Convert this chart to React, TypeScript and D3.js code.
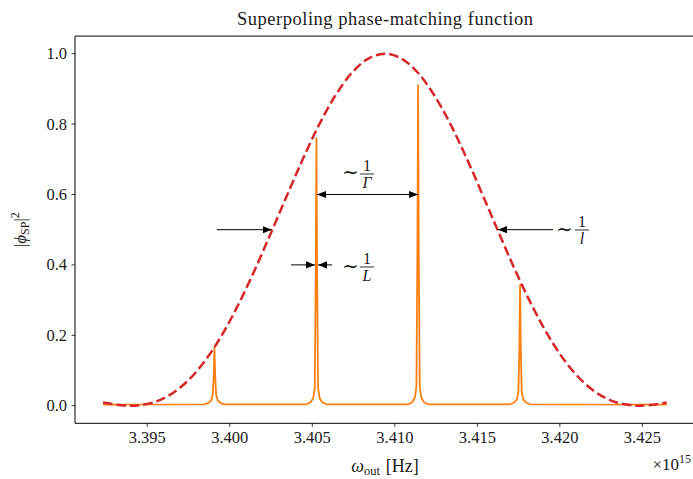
import React from "react";
import * as d3 from "d3";

// ---- data ----
const xTicks = [3.395, 3.4, 3.405, 3.41, 3.415, 3.42, 3.425];
const xTickLabels = ["3.395", "3.400", "3.405", "3.410", "3.415", "3.420", "3.425"];
const yTicks = [0, 0.2, 0.4, 0.6, 0.8, 1.0];
const yTickLabels = ["0.0", "0.2", "0.4", "0.6", "0.8", "1.0"];

// dashed envelope (red)
const envX = [
  3.39232, 3.3934, 3.394, 3.3944, 3.3954, 3.3964, 3.3974, 3.3984, 3.3994, 3.4004,
  3.4014, 3.4024, 3.4034, 3.4044, 3.4054, 3.4064, 3.4074, 3.4084, 3.4094, 3.4104,
  3.4114, 3.4124, 3.4134, 3.4144, 3.4154, 3.4164, 3.4174, 3.4184, 3.4194, 3.4204,
  3.4214, 3.4224, 3.4234, 3.4244, 3.4248, 3.4254, 3.42648,
];
const envY = [
  0.0088, 0.0014, 0.0, 0.0007, 0.0097, 0.0315, 0.0682, 0.1214, 0.191, 0.2763,
  0.374, 0.4804, 0.5903, 0.6979, 0.7971, 0.8812, 0.9458, 0.9862, 1.0, 0.9862,
  0.9458, 0.8812, 0.7971, 0.6979, 0.5903, 0.4804, 0.374, 0.2763, 0.191, 0.1214,
  0.0682, 0.0315, 0.0097, 0.0007, 0.0, 0.0014, 0.0088,
];

// superpoling spectrum (orange)
const specX = [
  3.39233,
  3.39847, 3.39872, 3.39888, 3.39897, 3.39903, 3.39907, 3.39911, 3.39917, 3.39926, 3.39942, 3.39967,
  3.40465, 3.4049, 3.40506, 3.40515, 3.40521, 3.40525, 3.40529, 3.40535, 3.40544, 3.4056, 3.40585,
  3.41081, 3.41106, 3.41122, 3.41131, 3.41137, 3.41141, 3.41145, 3.41151, 3.4116, 3.41176, 3.41201,
  3.41699, 3.41724, 3.4174, 3.41749, 3.41755, 3.41759, 3.41763, 3.41769, 3.41778, 3.41794, 3.41819,
  3.42648,
];
const specY = [
  0.003,
  0.004, 0.008, 0.016, 0.032, 0.09, 0.164, 0.09, 0.032, 0.016, 0.008, 0.004,
  0.004, 0.01, 0.022, 0.05, 0.38, 0.761, 0.38, 0.05, 0.022, 0.01, 0.004,
  0.004, 0.01, 0.024, 0.055, 0.45, 0.911, 0.45, 0.055, 0.024, 0.01, 0.004,
  0.004, 0.009, 0.018, 0.04, 0.17, 0.343, 0.17, 0.04, 0.018, 0.009, 0.004,
  0.003,
];

// annotation arrows [x1, y1, x2, y2] in data units
const arrowLeft = [3.39921, 0.5, 3.40254, 0.5];
const arrowRight = [3.41959, 0.5, 3.41625, 0.5];
const arrowGamma = [3.40529, 0.6, 3.41141, 0.6];
const arrowLa = [3.40371, 0.4, 3.40516, 0.4];
const arrowLb = [3.4062, 0.4, 3.40535, 0.4];

const W = 693;
const H = 479;
const FONT = "'Liberation Serif', 'DejaVu Serif', serif";
const TXT = "#1a1a1a";
const FS = 16.5;

export default function App() {
  const x = d3.scaleLinear().domain([3.39062, 3.42819]).range([75, 695]);
  const y = d3.scaleLinear().domain([-0.05, 1.05]).range([423.3, 36.1]);

  const envLine = d3
    .line<number>()
    .x((_, i) => x(envX[i]))
    .y((_, i) => y(envY[i]))
    .curve(d3.curveCatmullRom.alpha(0.5));
  const specLine = d3
    .line<number>()
    .x((_, i) => x(specX[i]))
    .y((_, i) => y(specY[i]));

  const left = 75, right = 695, top = 36.1, bottom = 423.3;

  const arrow = (a: number[], both = false, key = "") => (
    <line
      key={key}
      x1={x(a[0])}
      y1={y(a[1])}
      x2={x(a[2])}
      y2={y(a[3])}
      stroke="#000"
      strokeWidth={1}
      markerEnd="url(#ah)"
      markerStart={both ? "url(#ah)" : undefined}
    />
  );

  const frac = (cx: number, barY: number, num: string, den: string) => (
    <g fontFamily={FONT} fontSize={16} fill={TXT}>
      <text x={cx} y={barY - 3.5} textAnchor="middle">{num}</text>
      <line x1={cx - 7} x2={cx + 7} y1={barY} y2={barY} stroke={TXT} strokeWidth={0.9} />
      <text x={cx} y={barY + 14} textAnchor="middle" fontStyle="italic">{den}</text>
    </g>
  );

  return (
    <svg
      width={W}
      height={H}
      style={{ position: "absolute", left: 0, top: 0, background: "#fff" }}
      xmlns="http://www.w3.org/2000/svg"
    >
      <defs>
        <marker
          id="ah"
          viewBox="0 0 10 10"
          refX={10}
          refY={5}
          markerWidth={9}
          markerHeight={9}
          markerUnits="userSpaceOnUse"
          orient="auto-start-reverse"
        >
          <path d="M0,1 L10,5 L0,9 Z" fill="#000" />
        </marker>
        <clipPath id="plot">
          <rect x={left} y={top} width={right - left} height={bottom - top} />
        </clipPath>
      </defs>
      <rect x={0} y={0} width={W} height={H} fill="#fff" />

      <g clipPath="url(#plot)">
        <path
          d={specLine(specX) || ""}
          fill="none"
          stroke="#ff7f0e"
          strokeWidth={1.8}
          strokeLinejoin="round"
        />
        <path
          d={envLine(envX) || ""}
          fill="none"
          stroke="#d62728"
          strokeWidth={2.5}
          strokeDasharray="9.5,4"
        />
      </g>

      {arrow(arrowLeft, false, "l")}
      {arrow(arrowRight, false, "r")}
      {arrow(arrowGamma, true, "g")}
      {arrow(arrowLa, false, "la")}
      {arrow(arrowLb, false, "lb")}

      {/* ~ 1/Γ */}
      <text x={342} y={179} fontFamily={FONT} fontSize={20} fill={TXT}>∼</text>
      {frac(367, 174, "1", "Γ")}
      {/* ~ 1/L */}
      <text x={342} y={273} fontFamily={FONT} fontSize={20} fill={TXT}>∼</text>
      {frac(367, 267, "1", "L")}
      {/* ~ 1/l */}
      <text x={556} y={236} fontFamily={FONT} fontSize={20} fill={TXT}>∼</text>
      {frac(582, 230, "1", "l")}

      {/* spines */}
      <g stroke="#000" strokeWidth={1} fill="none">
        <line x1={left} x2={left} y1={top} y2={bottom} />
        <line x1={left} x2={right} y1={bottom} y2={bottom} />
        <line x1={left} x2={right} y1={top} y2={top} />
        <line x1={right} x2={right} y1={top} y2={bottom} />
      </g>

      {/* x ticks */}
      {xTicks.map((t, i) => (
        <g key={"xt" + i}>
          <line x1={x(t)} x2={x(t)} y1={bottom} y2={bottom + 3.5} stroke="#000" strokeWidth={0.8} />
          <text
            x={x(t)}
            y={bottom + 20}
            textAnchor="middle"
            fontFamily={FONT}
            fontSize={FS}
            fill={TXT}
          >
            {xTickLabels[i]}
          </text>
        </g>
      ))}

      {/* y ticks */}
      {yTicks.map((t, i) => (
        <g key={"yt" + i}>
          <line x1={left - 3.5} x2={left} y1={y(t)} y2={y(t)} stroke="#000" strokeWidth={0.8} />
          <text
            x={left - 8}
            y={y(t) + 5.5}
            textAnchor="end"
            fontFamily={FONT}
            fontSize={FS}
            fill={TXT}
          >
            {yTickLabels[i]}
          </text>
        </g>
      ))}

      {/* title */}
      <text
        x={(left + right) / 2}
        y={25}
        textAnchor="middle"
        fontFamily={FONT}
        fontSize={18.5}
        fill={TXT}
        textLength={296}
        lengthAdjust="spacing"
      >
        Superpoling phase-matching function
      </text>

      {/* x label */}
      <text
        x={(left + right) / 2}
        y={472}
        textAnchor="middle"
        fontFamily={FONT}
        fontSize={18}
        fill={TXT}
      >
        <tspan fontStyle="italic">ω</tspan>
        <tspan fontSize={12.5} dy={3}>out</tspan>
        <tspan dy={-3} dx={6}>[Hz]</tspan>
      </text>

      {/* offset text */}
      <text x={691} y={470} textAnchor="end" fontFamily={FONT} fontSize={17} fill={TXT}>
        ×10
        <tspan fontSize={12} dy={-7}>15</tspan>
      </text>

      {/* y label */}
      <text
        transform={`translate(26, ${(top + bottom) / 2}) rotate(-90)`}
        textAnchor="middle"
        fontFamily={FONT}
        fontSize={17}
        fill={TXT}
      >
        |<tspan fontStyle="italic">ϕ</tspan>
        <tspan fontSize={12} dy={3}>SP</tspan>
        <tspan dy={-3}>|</tspan>
        <tspan fontSize={12} dy={-7}>2</tspan>
      </text>
    </svg>
  );
}
